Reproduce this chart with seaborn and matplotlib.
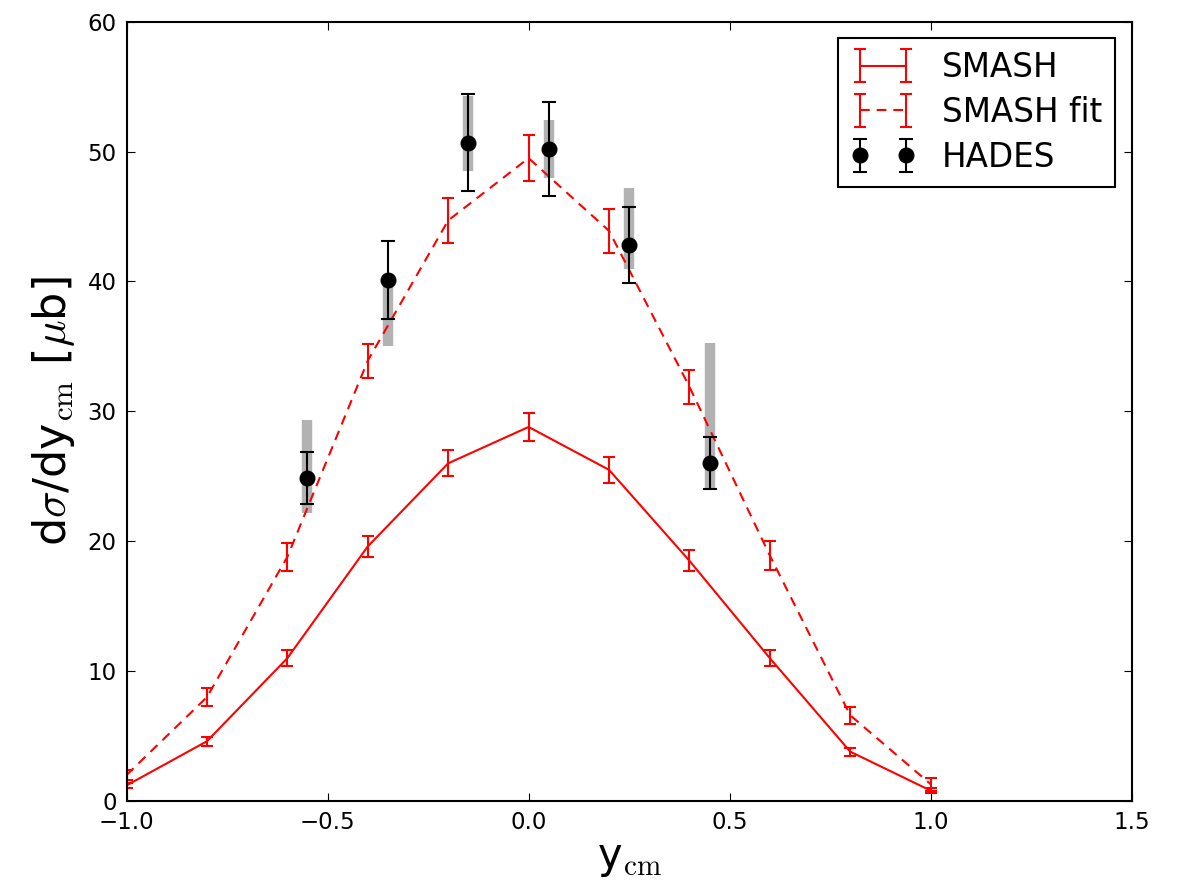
import numpy as np
import pandas as pd
import matplotlib
matplotlib.use("Agg")
import matplotlib.pyplot as plt
import seaborn as sns

# ---------------- data ----------------
y_smash = [-1.0, -0.8, -0.6, -0.4, -0.2, 0.0, 0.2, 0.4, 0.6, 0.8, 1.0]
smash = [1.2, 4.6, 11.0, 19.6, 26.0, 28.8, 25.5, 18.5, 11.0, 3.8, 0.8]
smash_err = [0.2, 0.35, 0.6, 0.8, 1.0, 1.1, 1.0, 0.8, 0.6, 0.3, 0.2]
smash_fit = [2.0, 8.0, 18.8, 33.9, 44.7, 49.5, 43.9, 31.9, 18.9, 6.6, 1.3]
smash_fit_err = [0.4, 0.7, 1.1, 1.3, 1.7, 1.8, 1.7, 1.3, 1.1, 0.65, 0.5]

y_hades = [-0.55, -0.35, -0.15, 0.05, 0.25, 0.45]
hades = [24.9, 40.1, 50.7, 50.2, 42.8, 26.05]
hades_stat = [2.0, 3.0, 3.7, 3.6, 2.95, 2.0]
hades_sys_lo = [2.7, 5.1, 2.2, 2.2, 1.8, 2.05]
hades_sys_hi = [4.4, 0.3, 3.6, 2.2, 4.4, 9.2]

x_ticks = [-1.0, -0.5, 0.0, 0.5, 1.0, 1.5]
y_ticks = [0, 10, 20, 30, 40, 50, 60]

# ---------------- style ----------------
sns.set_style("ticks")
plt.rcParams.update({
    "font.family": ["DejaVu Sans"],
    "mathtext.fontset": "cm",
    "text.color": "black",
    "axes.labelcolor": "black",
    "xtick.direction": "in",
    "ytick.direction": "in",
    "xtick.top": True,
    "ytick.right": True,
    "xtick.major.size": 5.5,
    "ytick.major.size": 5.5,
    "xtick.major.width": 0.8,
    "ytick.major.width": 0.8,
    "axes.edgecolor": "black",
    "axes.linewidth": 1.5,
    "xtick.color": "black",
    "ytick.color": "black",
    "lines.dashed_pattern": (7, 5),
    "lines.scale_dashes": False,
})

fig = plt.figure(figsize=(11.77, 8.91), dpi=100)
ax = fig.add_axes([0.1075, 0.101, 0.8540, 0.8746])

df_s = pd.DataFrame({"y": y_smash, "v": smash})
df_f = pd.DataFrame({"y": y_smash, "v": smash_fit})

red = "#ff0000"
sns.lineplot(data=df_s, x="y", y="v", color=red, lw=1.5, ax=ax, zorder=2, legend=False)
sns.lineplot(data=df_f, x="y", y="v", color=red, lw=1.5, linestyle="--", ax=ax, zorder=2, legend=False)

ax.errorbar(y_smash, smash, yerr=smash_err, fmt="none", ecolor=red, elinewidth=1.5,
            capsize=4.5, capthick=1.5, zorder=2)
ax.errorbar(y_smash, smash_fit, yerr=smash_fit_err, fmt="none", ecolor=red, elinewidth=1.5,
            capsize=4.5, capthick=1.5, zorder=2)

# HADES systematic (gray) and statistical (black)
ax.errorbar(y_hades, hades, yerr=[hades_sys_lo, hades_sys_hi], fmt="none", ecolor="black",
            alpha=0.3, elinewidth=7.5, capsize=0, zorder=1)
ax.errorbar(y_hades, hades, yerr=hades_stat, fmt="o", color="black", ms=10.5, ecolor="black",
            elinewidth=1.5, capsize=5, capthick=1.5, zorder=3)

# legend proxies
h1 = ax.errorbar([np.nan], [np.nan], yerr=[np.nan], fmt="-", color=red, lw=1.5,
                 capsize=4.5, capthick=1.5, label="SMASH")
h2 = ax.errorbar([np.nan], [np.nan], yerr=[np.nan], fmt="--", color=red, lw=1.5,
                 capsize=4.5, capthick=1.5, label="SMASH fit")
h3 = ax.errorbar([np.nan], [np.nan], yerr=[np.nan], fmt="o", color="black", ms=10.5,
                 elinewidth=1.5, capsize=5, capthick=1.5, label="HADES")
leg = ax.legend(handles=[h1, h2, h3], loc="upper right", fontsize=23.5, numpoints=2,
                frameon=True, fancybox=False, framealpha=1, edgecolor="black",
                borderpad=0.4, labelspacing=0.36, handlelength=2.0, handletextpad=0.8,
                borderaxespad=0.5)
leg.get_frame().set_linewidth(1.5)
for t in leg.get_texts():
    t.set_color("black")

ax.set_xlim(-1.0, 1.5)
ax.set_ylim(0, 60)
ax.set_xticks(x_ticks)
ax.set_yticks(y_ticks)
ax.set_xticklabels([f"{t:.1f}".replace("-", "\u2212") for t in x_ticks])
ax.tick_params(labelsize=16.5, pad=7)

ax.set_xlabel(r"y$_{\mathrm{cm}}$", fontsize=30, labelpad=2)
ax.set_ylabel(r"d$\sigma$/dy$_{\mathrm{cm}}$ [$\mu$b]", fontsize=32, labelpad=8)

fig.savefig("out.png", dpi=100, facecolor="white")
